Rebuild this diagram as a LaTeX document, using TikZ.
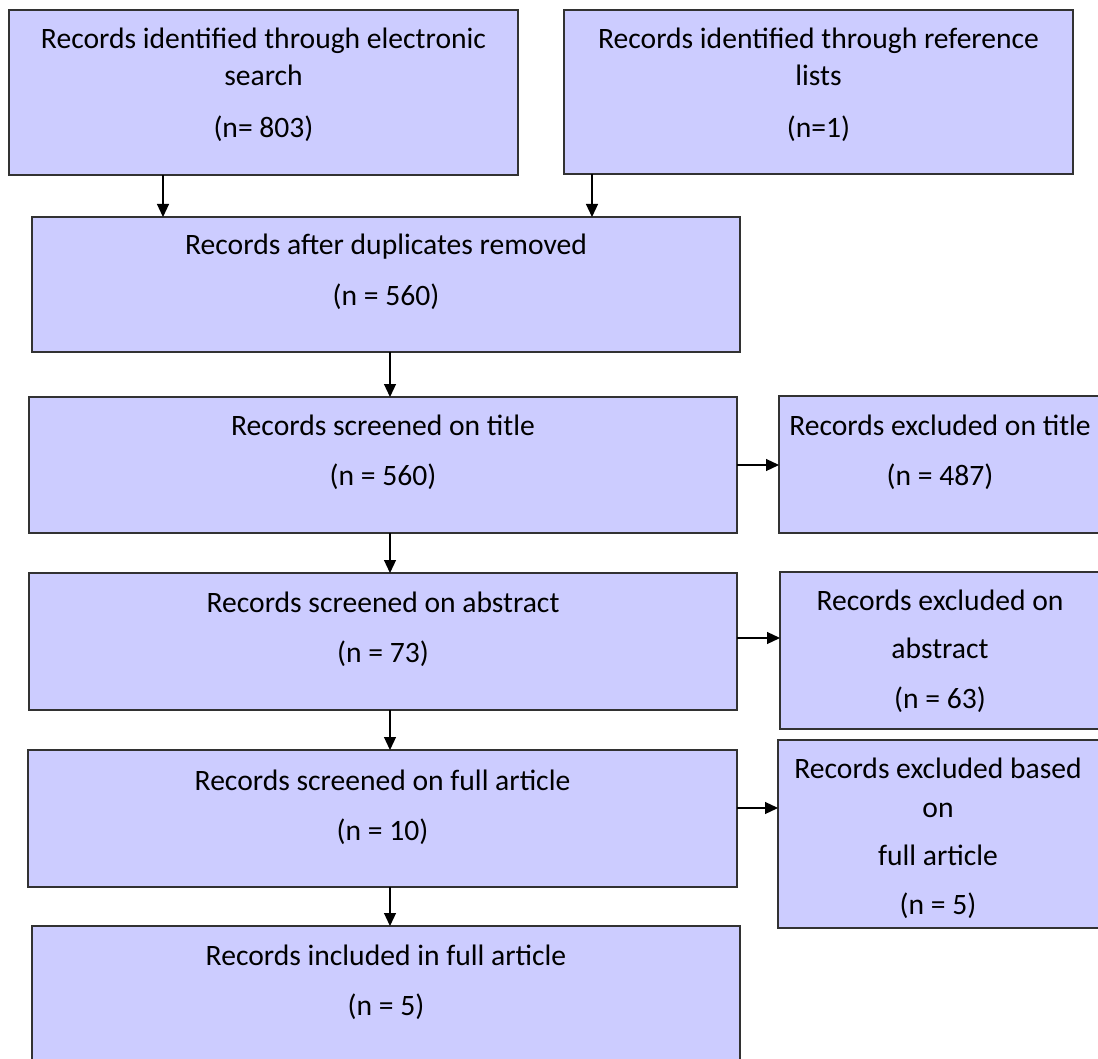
\documentclass[tikz,border=0pt]{standalone}
\usepackage{fontspec}
\setmainfont{Carlito}
\usetikzlibrary{arrows.meta,positioning,calc}
\definecolor{boxfill}{RGB}{204,204,255}
\definecolor{boxline}{RGB}{50,50,50}
\begin{document}
\begin{tikzpicture}[x=1pt,y=-1pt,
  box/.style={draw=boxline,fill=boxfill,line width=1.3pt,rectangle,inner sep=0pt,outer sep=0pt},
  txt/.style={inner sep=0pt,anchor=mid,yshift=-8pt,font=\fontsize{29.6}{37}\selectfont,text=black},
  arr/.style={draw=black,line width=1.2pt,-{Triangle[length=13pt,width=12pt]}}]
\useasboundingbox (0,0) rectangle (1098,1059);
\clip (0,0) rectangle (1098,1059);
% boxes
\node[box,minimum width=509pt,minimum height=165pt,anchor=north west] (b1) at (9,10) {};
\node[box,minimum width=509pt,minimum height=164pt,anchor=north west] (b2) at (564,10) {};
\node[box,minimum width=708pt,minimum height=135pt,anchor=north west] (b3) at (32,217) {};
\node[box,minimum width=708pt,minimum height=136pt,anchor=north west] (b4) at (29,397) {};
\node[box,minimum width=708pt,minimum height=137pt,anchor=north west] (b5) at (29,573) {};
\node[box,minimum width=709pt,minimum height=137pt,anchor=north west] (b6) at (28,750) {};
\node[box,minimum width=708pt,minimum height=160pt,anchor=north west] (b7) at (32,926) {};
\node[box,minimum width=322pt,minimum height=137pt,anchor=north west] (e1) at (779,396) {};
\node[box,minimum width=321pt,minimum height=157pt,anchor=north west] (e2) at (780,572) {};
\node[box,minimum width=323pt,minimum height=188pt,anchor=north west] (e3) at (778,740) {};
% texts
\node[txt] (t1a) at (263.5,38) {Records identified through electronic};
\node[txt] (t1b) at (263.5,75) {search};
\node[txt] (t1c) at (263.5,127) {(n= 803)};
\node[txt] (t2a) at (818.5,38) {Records identified through reference};
\node[txt] (t2b) at (818.5,75) {lists};
\node[txt] (t2c) at (818.5,127) {(n=1)};
\node[txt] (t3a) at (386,244) {Records after duplicates removed};
\node[txt] (t3b) at (386,295) {(n = 560)};
\node[txt] (t4a) at (383,425) {Records screened on title};
\node[txt] (t4b) at (383,475) {(n = 560)};
\node[txt] (t5a) at (383,602) {Records screened on abstract};
\node[txt] (t5b) at (383,652) {(n = 73)};
\node[txt] (t6a) at (382.5,780) {Records screened on full article};
\node[txt] (t6b) at (382.5,830) {(n = 10)};
\node[txt] (t7a) at (386,955) {Records included in full article};
\node[txt] (t7b) at (386,1005) {(n = 5)};
\node[txt] (u1a) at (940,425) {Records excluded on title};
\node[txt] (u1b) at (940,475) {(n = 487)};
\node[txt] (u2a) at (940,600) {Records excluded on};
\node[txt] (u2b) at (940,648) {abstract};
\node[txt] (u2c) at (940,698) {(n = 63)};
\node[txt] (u3a) at (938,768) {Records excluded based};
\node[txt] (u3b) at (938,807) {on};
\node[txt] (u3c) at (938,855) {full article};
\node[txt] (u3d) at (938,904) {(n = 5)};
% connector guides
\coordinate (x1) at (163,0);
\coordinate (x2) at (592,0);
\coordinate (xm) at (390,0);
\coordinate (y1) at (0,465);
\coordinate (y2) at (0,638);
\coordinate (y3) at (0,808);
% connectors
\draw[arr] (b1.south -| x1) -- (b3.north -| x1);
\draw[arr] (b2.south -| x2) -- (b3.north -| x2);
\draw[arr] (b3.south -| xm) -- (b4.north -| xm);
\draw[arr] (b4.south -| xm) -- (b5.north -| xm);
\draw[arr] (b5.south -| xm) -- (b6.north -| xm);
\draw[arr] (b6.south -| xm) -- (b7.north -| xm);
\draw[arr] (b4.east |- y1) -- (e1.west |- y1);
\draw[arr] (b5.east |- y2) -- (e2.west |- y2);
\draw[arr] (b6.east |- y3) -- (e3.west |- y3);
\end{tikzpicture}
\end{document}
